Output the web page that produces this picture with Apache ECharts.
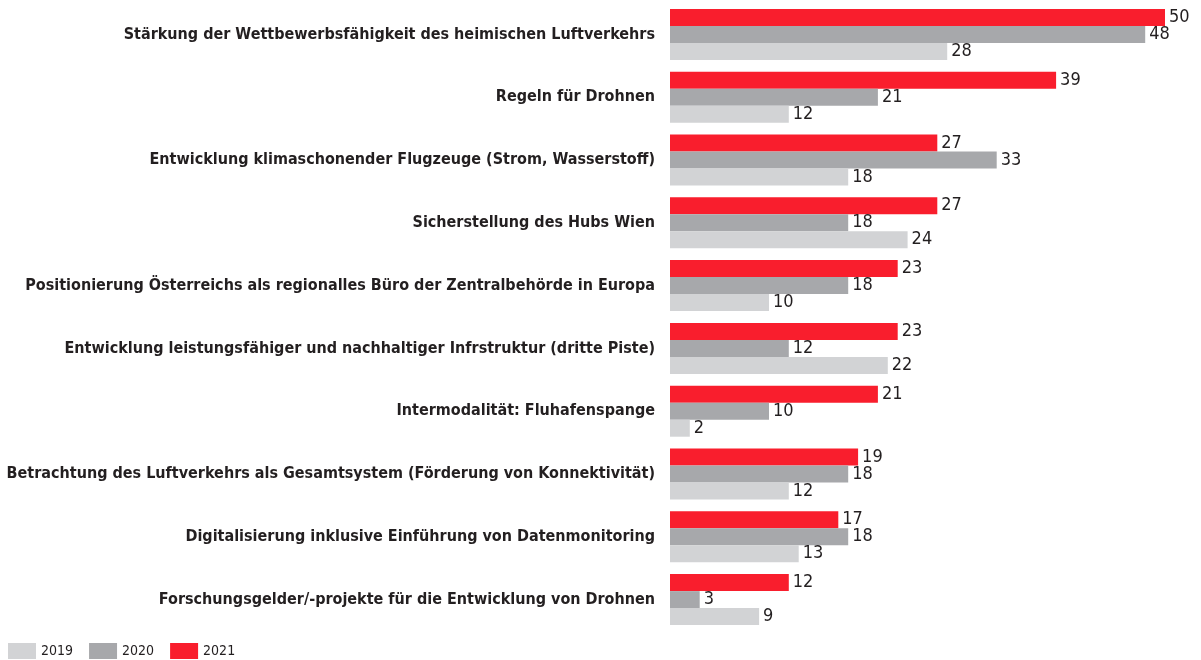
<!DOCTYPE html>
<html>
<head>
<meta charset="utf-8">
<script src="https://cdn.jsdelivr.net/npm/echarts@6/dist/echarts.min.js"></script>
<style>html,body{margin:0;padding:0;background:#fff}#c{width:1201px;height:660px}</style>
</head>
<body>
<div id="c"></div>
<script>
const categories = [
  "Stärkung der Wettbewerbsfähigkeit des heimischen Luftverkehrs",
  "Regeln für Drohnen",
  "Entwicklung klimaschonender Flugzeuge (Strom, Wasserstoff)",
  "Sicherstellung des Hubs Wien",
  "Positionierung Österreichs als regionalles Büro der Zentralbehörde in Europa",
  "Entwicklung leistungsfähiger und nachhaltiger Infrstruktur (dritte Piste)",
  "Intermodalität: Fluhafenspange",
  "Betrachtung des Luftverkehrs als Gesamtsystem (Förderung von Konnektivität)",
  "Digitalisierung inklusive Einführung von Datenmonitoring",
  "Forschungsgelder/-projekte für die Entwicklung von Drohnen"
];
const values2021 = [50, 39, 27, 27, 23, 23, 21, 19, 17, 12];
const values2020 = [48, 21, 33, 18, 18, 12, 10, 18, 18, 3];
const values2019 = [28, 12, 18, 24, 10, 22, 2, 12, 13, 9];
const legendNames = ["2019", "2020", "2021"];

const FONT = "'DejaVu Sans Condensed', 'Liberation Sans Narrow', Arial, sans-serif";
const chart = echarts.init(document.getElementById('c'), null, {renderer: 'canvas'});
const lbl = {show: true, position: 'right', distance: 4, color: '#231F20', fontSize: 18, fontFamily: FONT};
chart.setOption({
  animation: false,
  grid: {left: 670, right: 36, top: 3, bottom: 29, containLabel: false, outerBoundsMode: 'none'},
  legend: {
    data: legendNames, left: 8, top: 643, padding: 0, itemWidth: 28, itemHeight: 16, itemGap: 16,
    icon: 'rect',
    textStyle: {color: '#231F20', fontSize: 14, fontFamily: FONT}
  },
  xAxis: {type: 'value', min: 0, max: 50, show: false},
  yAxis: {
    type: 'category', data: categories, inverse: true,
    axisLine: {show: false}, axisTick: {show: false}, splitLine: {show: false},
    axisLabel: {color: '#231F20', fontWeight: 'bold', fontSize: 16, fontFamily: FONT, margin: 15, padding: [0, 0, 4, 0]}
  },
  series: [
    {name: '2021', type: 'bar', data: values2021, itemStyle: {color: '#F91E2D'}, barWidth: 17, barGap: '0%', label: lbl},
    {name: '2020', type: 'bar', data: values2020, itemStyle: {color: '#A7A8AB'}, barWidth: 17, barGap: '0%', label: lbl},
    {name: '2019', type: 'bar', data: values2019, itemStyle: {color: '#D2D3D5'}, barWidth: 17, barGap: '0%', label: lbl}
  ]
});
</script>
</body>
</html>
